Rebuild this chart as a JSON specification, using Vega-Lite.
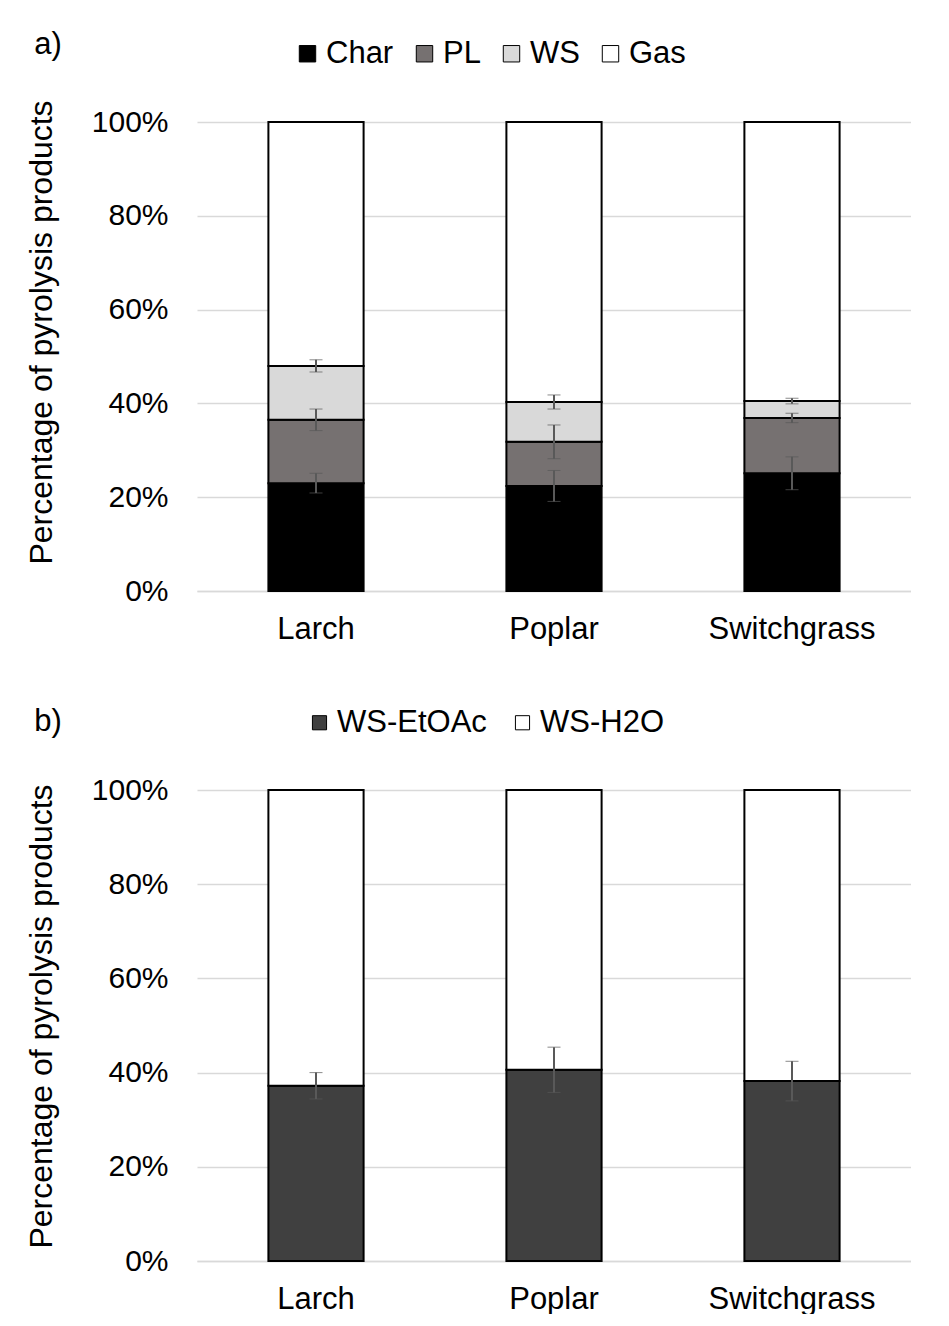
{
  "$schema": "https://vega.github.io/schema/vega-lite/v6.json",
  "background": "white",
  "padding": {"left": 25, "top": 29, "right": 0, "bottom": 0},
  "config": {
    "font": "Liberation Sans",
    "view": {"stroke": null},
    "title": {"font": "Liberation Sans", "fontSize": 31, "fontWeight": "normal", "color": "black", "anchor": "start", "frame": "bounds"},
    "axis": {"labelFont": "Liberation Sans", "titleFont": "Liberation Sans", "labelColor": "black", "titleColor": "black", "labelFontSize": 30, "titleFontSize": 32, "titleFontWeight": "normal", "ticks": false},
    "legend": {"labelFont": "Liberation Sans", "labelFontSize": 31, "labelColor": "black", "symbolType": "square", "symbolSize": 270, "symbolStrokeColor": "black", "symbolStrokeWidth": 1, "labelOffset": 3, "columnPadding": 15, "orient": "none", "direction": "horizontal", "title": null}
  },
  "datasets": {
    "a": [
      {"biomass": "Larch", "product": "Char", "idx": 1, "value": 23.0},
      {"biomass": "Larch", "product": "PL", "idx": 2, "value": 13.5},
      {"biomass": "Larch", "product": "WS", "idx": 3, "value": 11.5},
      {"biomass": "Larch", "product": "Gas", "idx": 4, "value": 52.0},
      {"biomass": "Poplar", "product": "Char", "idx": 1, "value": 22.4},
      {"biomass": "Poplar", "product": "PL", "idx": 2, "value": 9.4},
      {"biomass": "Poplar", "product": "WS", "idx": 3, "value": 8.5},
      {"biomass": "Poplar", "product": "Gas", "idx": 4, "value": 59.7},
      {"biomass": "Switchgrass", "product": "Char", "idx": 1, "value": 25.1},
      {"biomass": "Switchgrass", "product": "PL", "idx": 2, "value": 11.8},
      {"biomass": "Switchgrass", "product": "WS", "idx": 3, "value": 3.6},
      {"biomass": "Switchgrass", "product": "Gas", "idx": 4, "value": 59.5}
    ],
    "aerr": [
      {"biomass": "Larch", "product": "Char", "top": 23.0, "err": 2.1},
      {"biomass": "Larch", "product": "PL", "top": 36.5, "err": 2.3},
      {"biomass": "Larch", "product": "WS", "top": 48.0, "err": 1.3},
      {"biomass": "Poplar", "product": "Char", "top": 22.4, "err": 3.3},
      {"biomass": "Poplar", "product": "PL", "top": 31.8, "err": 3.6},
      {"biomass": "Poplar", "product": "WS", "top": 40.3, "err": 1.5},
      {"biomass": "Switchgrass", "product": "Char", "top": 25.1, "err": 3.5},
      {"biomass": "Switchgrass", "product": "PL", "top": 36.9, "err": 1.0},
      {"biomass": "Switchgrass", "product": "WS", "top": 40.5, "err": 0.6}
    ],
    "b": [
      {"biomass": "Larch", "fraction": "WS-EtOAc", "idx": 1, "value": 37.2},
      {"biomass": "Larch", "fraction": "WS-H2O", "idx": 2, "value": 62.8},
      {"biomass": "Poplar", "fraction": "WS-EtOAc", "idx": 1, "value": 40.6},
      {"biomass": "Poplar", "fraction": "WS-H2O", "idx": 2, "value": 59.4},
      {"biomass": "Switchgrass", "fraction": "WS-EtOAc", "idx": 1, "value": 38.2},
      {"biomass": "Switchgrass", "fraction": "WS-H2O", "idx": 2, "value": 61.8}
    ],
    "berr": [
      {"biomass": "Larch", "top": 37.2, "err": 2.8},
      {"biomass": "Poplar", "top": 40.6, "err": 4.8},
      {"biomass": "Switchgrass", "top": 38.2, "err": 4.2}
    ]
  },
  "spacing": 62,
  "vconcat": [
    {
      "width": 714,
      "height": 469,
      "title": {"text": "a)", "dx": 9, "offset": -23},
      "layer": [
        {
          "data": {"name": "a"},
          "mark": {"type": "bar", "stroke": "black", "strokeWidth": 2},
          "encoding": {
            "x": {"field": "biomass", "type": "nominal", "sort": ["Larch", "Poplar", "Switchgrass"], "scale": {"paddingInner": 0.6, "paddingOuter": 0.3}, "axis": {"title": null, "labelAngle": 0, "labelFontSize": 31, "labelPadding": 23, "domain": true, "domainColor": "#d9d9d9", "domainWidth": 1.5}},
            "y": {"field": "value", "type": "quantitative", "stack": "zero", "scale": {"domain": [0, 100]}, "axis": {"title": "Percentage of pyrolysis products", "titleY": 210, "values": [0, 20, 40, 60, 80, 100], "labelExpr": "datum.value + '%'", "labelPadding": 29, "titlePadding": 33, "domain": false, "grid": true, "gridColor": "#d9d9d9", "gridWidth": 1.5}},
            "color": {"field": "product", "type": "nominal", "scale": {"domain": ["Char", "PL", "WS", "Gas"], "range": ["#000000", "#767171", "#d9d9d9", "#ffffff"]}, "legend": {"legendX": 95, "legendY": -84}},
            "order": {"field": "idx", "type": "quantitative"}
          }
        },
        {
          "data": {"name": "aerr"},
          "mark": {"type": "errorbar", "ticks": {"size": 13, "color": "#595959", "strokeWidth": 2}, "rule": {"color": "#595959", "strokeWidth": 2}},
          "encoding": {
            "x": {"field": "biomass", "type": "nominal", "sort": ["Larch", "Poplar", "Switchgrass"]},
            "y": {"field": "top", "type": "quantitative", "title": "Percentage of pyrolysis products"},
            "yError": {"field": "err"}
          }
        }
      ]
    },
    {
      "width": 714,
      "height": 471,
      "title": {"text": "b)", "dx": 9, "offset": -31},
      "layer": [
        {
          "data": {"name": "b"},
          "mark": {"type": "bar", "stroke": "black", "strokeWidth": 2},
          "encoding": {
            "x": {"field": "biomass", "type": "nominal", "sort": ["Larch", "Poplar", "Switchgrass"], "scale": {"paddingInner": 0.6, "paddingOuter": 0.3}, "axis": {"title": null, "labelAngle": 0, "labelFontSize": 31, "labelPadding": 23, "domain": true, "domainColor": "#d9d9d9", "domainWidth": 1.5}},
            "y": {"field": "value", "type": "quantitative", "stack": "zero", "scale": {"domain": [0, 100]}, "axis": {"title": "Percentage of pyrolysis products", "titleY": 226, "values": [0, 20, 40, 60, 80, 100], "labelExpr": "datum.value + '%'", "labelPadding": 29, "titlePadding": 33, "domain": false, "grid": true, "gridColor": "#d9d9d9", "gridWidth": 1.5}},
            "color": {"field": "fraction", "type": "nominal", "scale": {"domain": ["WS-EtOAc", "WS-H2O"], "range": ["#404040", "#ffffff"]}, "legend": {"legendX": 107, "legendY": -83, "columnPadding": 20, "symbolSize": 200, "labelOffset": 2}},
            "order": {"field": "idx", "type": "quantitative"}
          }
        },
        {
          "data": {"name": "berr"},
          "mark": {"type": "errorbar", "ticks": {"size": 13, "color": "#595959", "strokeWidth": 2}, "rule": {"color": "#595959", "strokeWidth": 2}},
          "encoding": {
            "x": {"field": "biomass", "type": "nominal", "sort": ["Larch", "Poplar", "Switchgrass"]},
            "y": {"field": "top", "type": "quantitative", "title": "Percentage of pyrolysis products"},
            "yError": {"field": "err"}
          }
        }
      ]
    }
  ],
  "resolve": {"scale": {"color": "independent"}}
}
